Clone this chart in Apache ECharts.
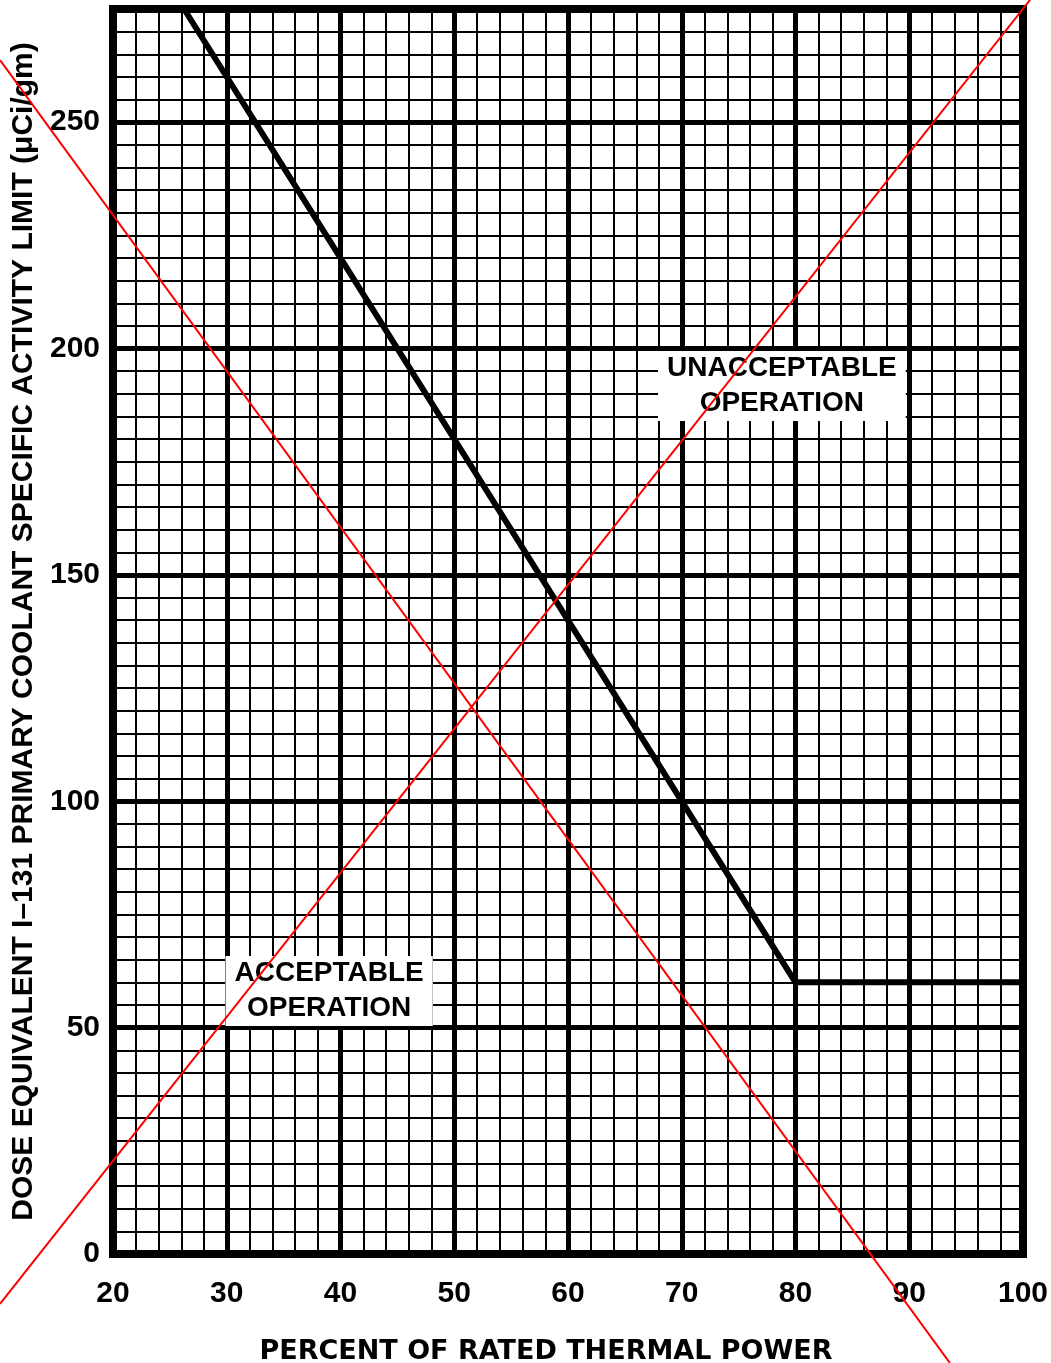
<!DOCTYPE html>
<html lang="en">
<head>
    <meta charset="UTF-8">
    <title>I-131 limit</title>
    <script src="https://cdn.jsdelivr.net/npm/echarts@6/dist/echarts.min.js"></script>
</head>
<body style="margin: 0; background: #fff">
<div id="main" style="width: 1051px; height: 1363px"></div>

<script>
    // limit curve: percent of rated thermal power vs uCi/gm
    const limitPower = [26.25, 80, 100];
    const limitActivity = [275, 60, 60];

    // red cross drawn over the figure (runs past the plot frame)
    const crossAPower = [10.07, 93.58];
    const crossAActivity = [263.7, -24.1];
    const crossBPower = [10.07, 100.62];
    const crossBActivity = [-11.0, 277.0];

    // region labels
    const regionNames = ['UNACCEPTABLE\nOPERATION', 'ACCEPTABLE\nOPERATION'];
    const regionPower = [78.8, 39.0];
    const regionActivity = [191.7, 58.1];

    const labelFont = 'Liberation Sans';

    const chart = echarts.init(document.getElementById('main'));

    const option = {
        animation: false,
        backgroundColor: '#fff',
        grid: {
            left: 113, right: 28, top: 9, bottom: 109,
            outerBoundsMode: 'none',
            show: true,
            borderColor: '#000',
            borderWidth: 8
        },
        xAxis: {
            type: 'value',
            min: 20, max: 100, interval: 10,
            name: 'PERCENT OF RATED THERMAL POWER',
            nameLocation: 'middle',
            nameGap: 84,
            nameTextStyle: {
                fontFamily: 'DejaVu Sans', fontWeight: 'bold', fontSize: 27, color: '#000',
                padding: [0, 44, 0, 0]
            },
            axisLine: {show: false},
            axisTick: {show: false},
            axisLabel: {margin: 25, fontFamily: labelFont, fontWeight: 'bold', fontSize: 30, color: '#000'},
            splitLine: {lineStyle: {color: '#000', width: 5}},
            minorTick: {show: false, splitNumber: 5},
            minorSplitLine: {show: true, lineStyle: {color: '#000', width: 2}}
        },
        yAxis: [
            {
                type: 'value',
                min: 0, max: 275, interval: 50,
                name: 'DOSE EQUIVALENT I\u2013131 PRIMARY COOLANT SPECIFIC ACTIVITY LIMIT (\u03bcCi/gm)',
                nameLocation: 'middle',
                nameGap: 70,
                nameTextStyle: {fontFamily: labelFont, fontWeight: 'bold', fontSize: 30, color: '#000'},
                axisLine: {show: false},
                axisTick: {show: false},
                axisLabel: {margin: 13, showMaxLabel: false, fontFamily: labelFont, fontWeight: 'bold', fontSize: 30, color: '#000'},
                splitLine: {lineStyle: {color: '#000', width: 5}}
            },
            {
                type: 'value',
                min: 0, max: 275, interval: 5,
                position: 'right',
                axisLine: {show: false},
                axisTick: {show: false},
                axisLabel: {show: false},
                splitLine: {lineStyle: {color: '#000', width: 2}}
            }
        ],
        series: [
            {
                type: 'line',
                z: 3,
                data: limitPower.map((p, i) => [p, limitActivity[i]]),
                symbol: 'none',
                lineStyle: {color: '#000', width: 6}
            },
            {
                type: 'scatter',
                z: 5,
                symbolSize: 0,
                itemStyle: {opacity: 1},
                data: regionNames.map((n, i) => ({name: n, value: [regionPower[i], regionActivity[i]]})),
                label: {
                    show: true,
                    position: 'inside',
                    formatter: '{b}',
                    opacity: 1,
                    fontFamily: labelFont,
                    fontWeight: 'bold',
                    fontSize: 28,
                    lineHeight: 35,
                    color: '#000',
                    backgroundColor: '#fff',
                    padding: [0, 9, 0, 9]
                },
                emphasis: {disabled: true}
            }
        ]
    };

    chart.setOption(option);

    // the cross runs outside the grid, so place it through the grid's own scales
    function crossLine(px, py) {
        const a = chart.convertToPixel({gridIndex: 0}, [px[0], py[0]]);
        const b = chart.convertToPixel({gridIndex: 0}, [px[1], py[1]]);
        return {
            type: 'line',
            z: 100,
            silent: true,
            shape: {x1: a[0], y1: a[1], x2: b[0], y2: b[1]},
            style: {stroke: '#ff0000', lineWidth: 2}
        };
    }

    chart.setOption({
        graphic: [
            crossLine(crossAPower, crossAActivity),
            crossLine(crossBPower, crossBActivity)
        ]
    });
</script>
</body>
</html>
